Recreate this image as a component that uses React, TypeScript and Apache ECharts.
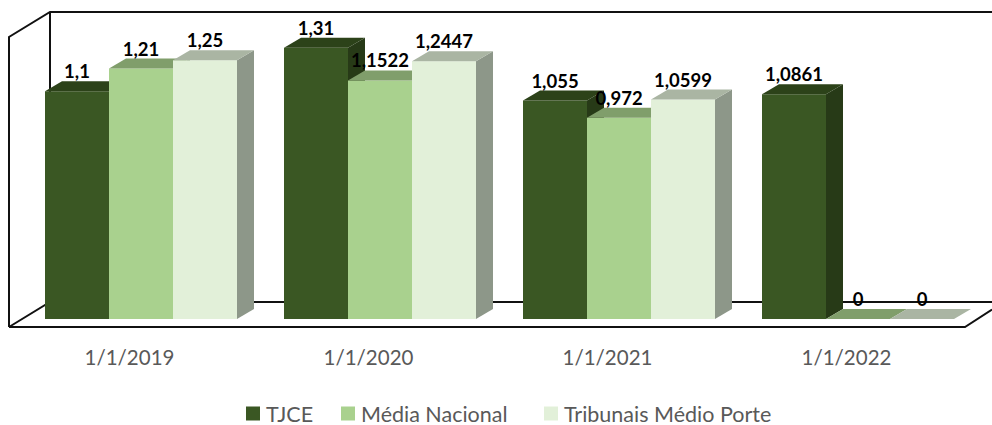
import React, { useEffect, useRef } from "react";
import * as echarts from "echarts";

const categories = ["1/1/2019", "1/1/2020", "1/1/2021", "1/1/2022"];
const tjce = [1.1, 1.31, 1.055, 1.0861];
const mediaNacional = [1.21, 1.1522, 0.972, 0];
const tribunaisMedioPorte = [1.25, 1.2447, 1.0599, 0];

const seriesNames = ["TJCE", "Média Nacional", "Tribunais Médio Porte"];
const seriesValues = [tjce, mediaNacional, tribunaisMedioPorte];
const legendLefts = [246, 341, 544];
const frontColors = ["#3A5723", "#A9D18E", "#E2F0D9"];
const topColors = ["#2C4219", "#809E6B", "#AAB5A3"];
const sideColors = ["#273A17", "#75906A", "#8D9789"];

const DEPTH_X = 17;
const DEPTH_Y = 10;
const FLOOR_SHIFT = 12.5;
const BAR_SHARE = 64 / 239;
const FONT = "Lato, Carlito, sans-serif";

const frameStyle = { stroke: "#111", lineWidth: 2, fill: "none" };
const frame = [
  [[9, 327], [9, 37], [50, 12], [992, 12]],
  [[50, 12], [50, 302]],
  [[9, 327], [50, 302], [992, 302]],
  [[9, 327], [965, 327], [992, 309.5]],
];

const renderBar = (seriesIndex: number) => (params: any, api: any) => {
  const idx = api.value(0);
  const val = api.value(1);
  const band = api.size([1, 0])[0];
  const w = band * BAR_SHARE;
  const [cx, yTop] = api.coord([idx, val]);
  const [, yBase] = api.coord([idx, 0]);
  const x0 = cx + FLOOR_SHIFT + (seriesIndex - 1.5) * w;
  const x1 = x0 + w;
  const children: any[] = [];
  if (yBase - yTop > 0.5) {
    children.push({
      type: "rect",
      shape: { x: x0, y: yTop, width: w, height: yBase - yTop },
      style: { fill: frontColors[seriesIndex] },
    });
    children.push({
      type: "polygon",
      shape: { points: [[x1, yTop], [x1 + DEPTH_X, yTop - DEPTH_Y], [x1 + DEPTH_X, yBase - DEPTH_Y], [x1, yBase]] },
      style: { fill: sideColors[seriesIndex] },
    });
  }
  children.push({
    type: "polygon",
    shape: { points: [[x0, yTop], [x1, yTop], [x1 + DEPTH_X, yTop - DEPTH_Y], [x0 + DEPTH_X, yTop - DEPTH_Y]] },
    style: { fill: topColors[seriesIndex] },
  });
  children.push({
    type: "text",
    z2: 100,
    style: {
      x: (x0 + x1) / 2,
      y: yTop - DEPTH_Y - 10,
      text: String(val).replace(".", ","),
      align: "center",
      verticalAlign: "middle",
      fill: "#000",
      font: `bold 18.5px ${FONT}`,
    },
  });
  return { type: "group", children };
};

export default function App() {
  const ref = useRef<HTMLDivElement>(null);
  useEffect(() => {
    const chart = echarts.init(ref.current!, undefined, { renderer: "svg" });
    chart.setOption({
      animation: false,
      backgroundColor: "#fff",
      grid: { left: 9, width: 956, top: 29.2, height: 289.8 },
      xAxis: {
        type: "category",
        data: categories,
        axisLine: { show: false },
        axisTick: { show: false },
        axisLabel: { color: "#595959", fontFamily: FONT, fontSize: 20.5, margin: 27, padding: [0, 0, 0, 2] },
      },
      yAxis: { type: "value", min: 0, max: 1.4, show: false },
      legend: seriesNames.map((name, i) => ({
        left: legendLefts[i],
        top: 402.5,
        padding: 0,
        itemWidth: 14,
        itemHeight: 14,
        icon: "rect",
        data: [name],
        textStyle: { color: "#595959", fontFamily: FONT, fontSize: 21.5, lineHeight: 18, padding: [0, 0, 0, 1] },
      })),
      graphic: frame.map((points) => ({
        type: "polyline",
        z: 0,
        shape: { points },
        style: frameStyle,
      })),
      series: seriesValues.map((values, i) => ({
        type: "custom",
        name: seriesNames[i],
        itemStyle: { color: frontColors[i] },
        encode: { x: 0, y: 1 },
        clip: false,
        data: values.map((v, c) => [c, v]),
        renderItem: renderBar(i),
      })),
    });
    return () => chart.dispose();
  }, []);
  return <div ref={ref} style={{ position: "absolute", left: 0, top: 0, width: 992, height: 425 }} />;
}
